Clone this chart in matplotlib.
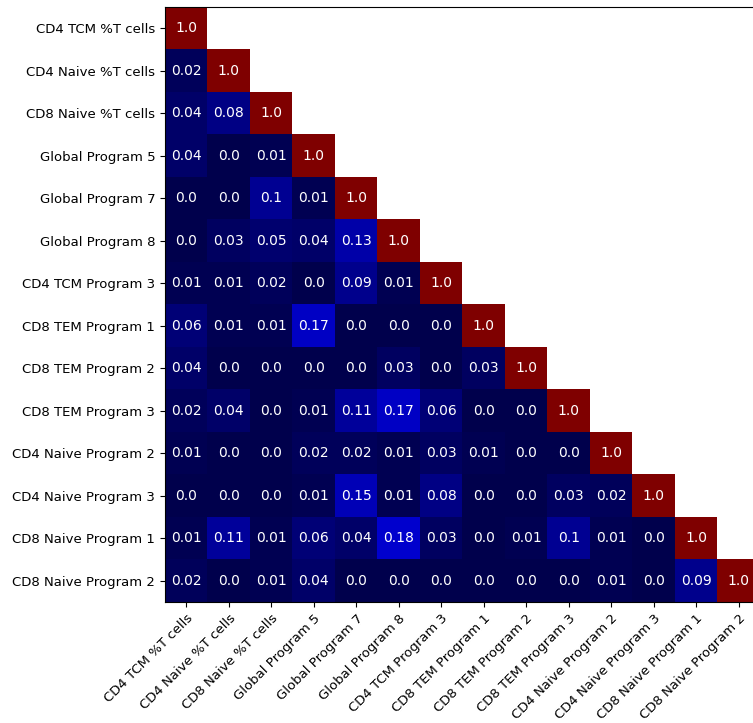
import numpy as np
import matplotlib
matplotlib.use("Agg")
import matplotlib.pyplot as plt

labels = ["CD4 TCM %T cells", "CD4 Naive %T cells", "CD8 Naive %T cells",
          "Global Program 5", "Global Program 7", "Global Program 8",
          "CD4 TCM Program 3", "CD8 TEM Program 1", "CD8 TEM Program 2",
          "CD8 TEM Program 3", "CD4 Naive Program 2", "CD4 Naive Program 3",
          "CD8 Naive Program 1", "CD8 Naive Program 2"]

# lower triangle rows (below the diagonal)
lower = [
    [],
    [0.02],
    [0.04, 0.08],
    [0.04, 0.0, 0.01],
    [0.0, 0.0, 0.1, 0.01],
    [0.0, 0.03, 0.05, 0.04, 0.13],
    [0.01, 0.01, 0.02, 0.0, 0.09, 0.01],
    [0.06, 0.01, 0.01, 0.17, 0.0, 0.0, 0.0],
    [0.04, 0.0, 0.0, 0.0, 0.0, 0.03, 0.0, 0.03],
    [0.02, 0.04, 0.0, 0.01, 0.11, 0.17, 0.06, 0.0, 0.0],
    [0.01, 0.0, 0.0, 0.02, 0.02, 0.01, 0.03, 0.01, 0.0, 0.0],
    [0.0, 0.0, 0.0, 0.01, 0.15, 0.01, 0.08, 0.0, 0.0, 0.03, 0.02],
    [0.01, 0.11, 0.01, 0.06, 0.04, 0.18, 0.03, 0.0, 0.01, 0.1, 0.01, 0.0],
    [0.02, 0.0, 0.01, 0.04, 0.0, 0.0, 0.0, 0.0, 0.0, 0.0, 0.01, 0.0, 0.09],
]

n = len(labels)
mat = np.full((n, n), np.nan)
for i, row in enumerate(lower):
    mat[i, :len(row)] = row
    mat[i, i] = 1.0
masked = np.ma.masked_invalid(mat)

fig = plt.figure(figsize=(7.53, 7.23), dpi=100)
ax = fig.add_axes([165 / 753, 121 / 723, 595 / 753, 595 / 723])
ax.imshow(masked, cmap="seismic", vmin=0, vmax=1, aspect="auto")

for i in range(n):
    for j in range(i + 1):
        ax.text(j, i, str(round(mat[i, j], 2)), ha="center", va="center",
                color="white", fontsize=10)

ax.set_xticks(range(n))
ax.set_yticks(range(n))
ax.set_xticklabels(labels, rotation=45, ha="right", rotation_mode="anchor", fontsize=9.5)
ax.set_yticklabels(labels, fontsize=9.5)

fig.savefig("out.png", dpi=100)
